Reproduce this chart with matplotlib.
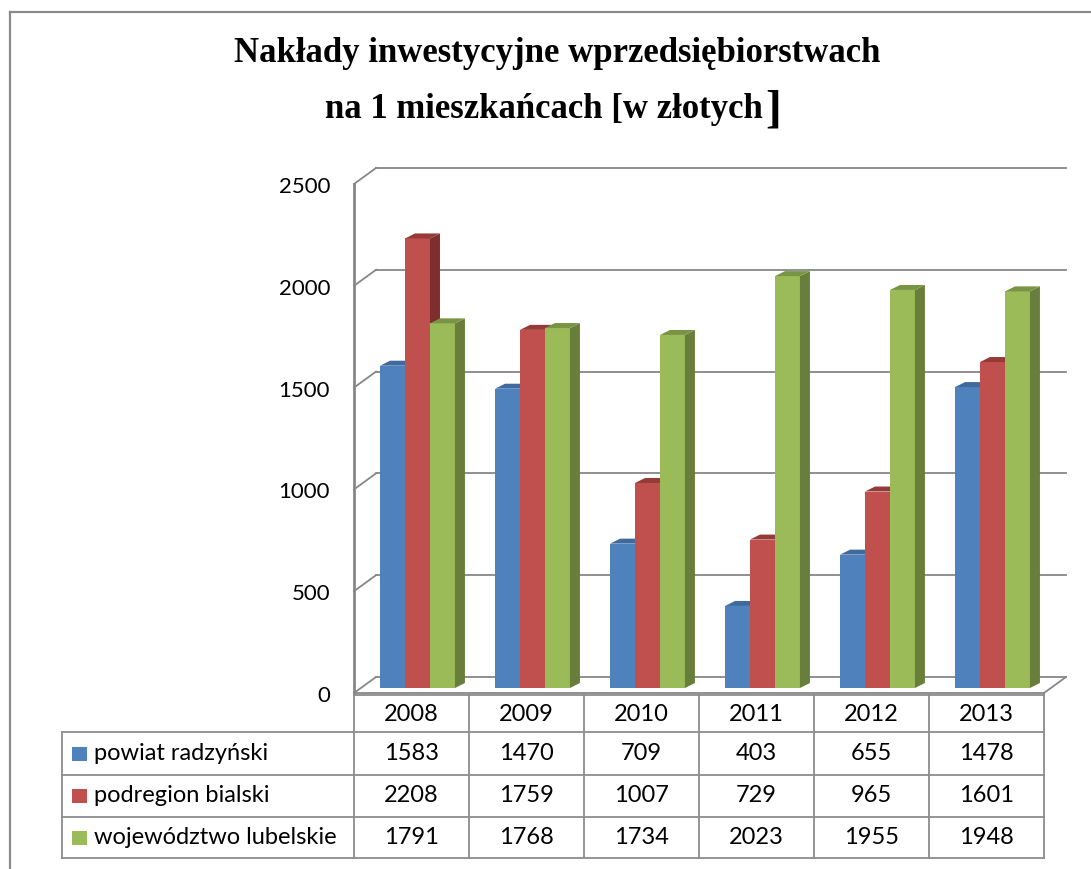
import matplotlib.pyplot as plt
from matplotlib.patches import Polygon, Rectangle
from matplotlib.transforms import IdentityTransform

# data
years = ['2008', '2009', '2010', '2011', '2012', '2013']
series_names = ['powiat radzyński', 'podregion bialski', 'województwo lubelskie']
powiat = [1583, 1470, 709, 403, 655, 1478]
podregion = [2208, 1759, 1007, 729, 965, 1601]
wojewodztwo = [1791, 1768, 1734, 2023, 1955, 1948]
series = [powiat, podregion, wojewodztwo]
y_ticks = [0, 500, 1000, 1500, 2000, 2500]

front_cols = ['#4F81BD', '#C0504D', '#9BBB59']
side_cols = ['#385E8C', '#7E2F2D', '#687E3A']
top_cols = ['#3F6A9E', '#953A37', '#7A9446']
grid_col = '#878787'
font = 'Lato'

W, H = 1091, 869
fig = plt.figure(figsize=(W / 100, H / 100), dpi=100)


def box(x0, y0, x1, y1):
    # pixel box (image coords, y down) -> figure fraction
    return [x0 / W, 1 - y1 / H, (x1 - x0) / W, (y1 - y0) / H]


# outer frame of the chart object
fig.add_artist(plt.Line2D([10 / W, 10 / W], [0, 1 - 12 / H], color='#8a8a8a', lw=1.6))
fig.add_artist(plt.Line2D([10 / W, 1], [1 - 12 / H, 1 - 12 / H], color='#8a8a8a', lw=1.6))

# title
fig.text(557 / W, 1 - 62 / H, 'Nakłady inwestycyjne wprzedsiębiorstwach',
         family='Liberation Serif', weight='bold', size=25, ha='center', va='baseline')
fig.text(763 / W, 1 - 118 / H, 'na 1 mieszkańcach [w złotych',
         family='Liberation Serif', weight='bold', size=25, ha='right', va='baseline')
fig.text(765 / W, 1 - 121 / H, ']',
         family='Liberation Serif', weight='bold', size=34, ha='left', va='baseline')

# plane of the bars
ax = fig.add_axes(box(360, 179, 1050, 688))
ax.set_xlim(-0.5, len(years) - 0.5)
ax.set_ylim(0, 2500)
ax.axis('off')
ax.set_autoscale_on(False)

FRONT = (-6, -5)   # pixel offset of the front plane
BACK = (16, 11)    # pixel offset of the back wall
DX, DY = 10, 5     # bar depth
ID = IdentityTransform()


def P(x, y, off=(0, 0)):
    px, py = ax.transData.transform((x, y))
    return px + off[0], py + off[1]


def seg(a, b, **kw):
    ax.plot([a[0], b[0]], [a[1], b[1]], transform=ID, clip_on=False, **kw)


x_lo, x_hi = -0.5, len(years) - 0.5
for v in y_ticks:
    seg(P(x_lo, v, BACK), P(x_hi, v, BACK), color=grid_col, lw=1.3, zorder=1)
    seg(P(x_lo, v, FRONT), P(x_lo, v, BACK), color=grid_col, lw=1.3, zorder=1)
    tx, ty = P(x_lo, v, FRONT)
    ax.text(tx - 24, ty - 3, str(v), transform=ID, ha='right', va='center',
            family=font, size=16)
seg(P(x_lo, 0, FRONT), P(x_hi, 0, FRONT), color=grid_col, lw=1.3, zorder=1)
seg(P(x_hi, 0, FRONT), P(x_hi, 0, BACK), color=grid_col, lw=1.3, zorder=1)
seg(P(x_lo, 0, FRONT), P(x_lo, 2500, FRONT), color=grid_col, lw=2, zorder=1)

# bars with a bit of 3D
w = 0.217
for j, vals in enumerate(series):
    xs = [i + (j - 1) * w for i in range(len(years))]
    ax.bar(xs, vals, width=w, color=front_cols[j], zorder=3 + j, clip_on=False)
    for x, v in zip(xs, vals):
        x0, x1 = x - w / 2, x + w / 2
        a, b = P(x1, 0), P(x1, v)
        side = [a, b, (b[0] + DX, b[1] + DY), (a[0] + DX, a[1] + DY)]
        c = P(x0, v)
        top = [c, b, (b[0] + DX, b[1] + DY), (c[0] + DX, c[1] + DY)]
        ax.add_patch(Polygon(side, closed=True, fc=side_cols[j], ec='none',
                             transform=ID, clip_on=False, zorder=3 + j))
        ax.add_patch(Polygon(top, closed=True, fc=top_cols[j], ec='none',
                             transform=ID, clip_on=False, zorder=3 + j))

# data table
label_w = 292 / 115
tab = fig.add_axes(box(62, 695, 1044, 858))
tab.set_xlim(x_lo - label_w, x_hi)
rows = [0, 37, 80, 122, 163]
tab.set_ylim(rows[-1], rows[0])
tab.axis('off')
tc = '#8c8c8c'
tab.plot([x_lo, x_hi], [0, 0], color=tc, lw=1.3, clip_on=False)
for r in rows[1:]:
    tab.plot([x_lo - label_w, x_hi], [r, r], color=tc, lw=1.3, clip_on=False)
tab.plot([x_lo - label_w] * 2, [rows[1], rows[-1]], color=tc, lw=1.3, clip_on=False)
for k in range(len(years) + 1):
    tab.plot([x_lo + k] * 2, [0, rows[-1]], color=tc, lw=1.3, clip_on=False)

for i, yr in enumerate(years):
    tab.text(i, (rows[0] + rows[1]) / 2 + 1, yr, ha='center', va='center', family=font, size=17)
for j, (name, vals) in enumerate(zip(series_names, series)):
    mid = (rows[j + 1] + rows[j + 2]) / 2
    tab.add_patch(Rectangle((x_lo - label_w + 10 / 115, mid - 7), 15 / 115, 14,
                            fc=front_cols[j], ec='none', clip_on=False))
    tab.text(x_lo - label_w + 32 / 115, mid, name, ha='left', va='center', family=font, size=17)
    for i, v in enumerate(vals):
        tab.text(i, mid, str(v), ha='center', va='center', family=font, size=17)

plt.savefig('out.png', dpi=100)
plt.close()
